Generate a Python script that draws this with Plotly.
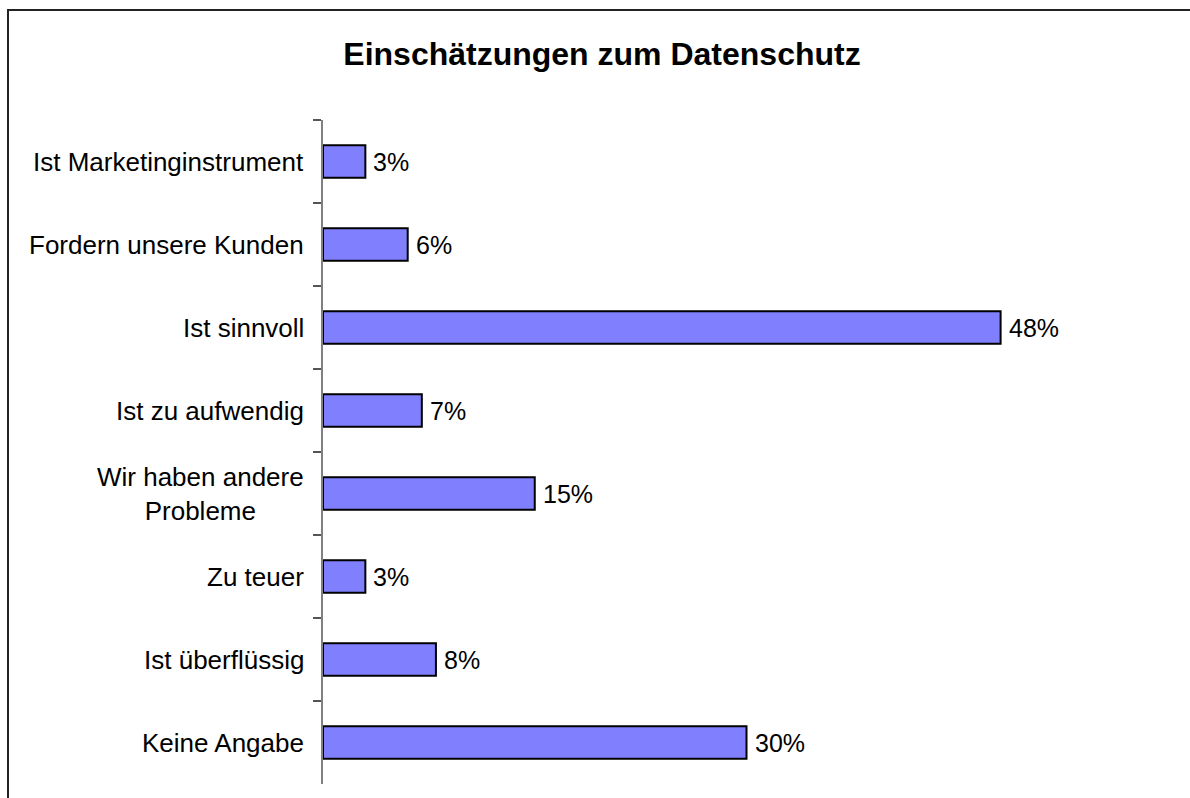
import plotly.graph_objects as go

# Survey answers, top to bottom
categories = [
    "Ist Marketinginstrument",
    "Fordern unsere Kunden",
    "Ist sinnvoll",
    "Ist zu aufwendig",
    "Wir haben andere<br>Probleme",
    "Zu teuer",
    "Ist überflüssig",
    "Keine Angabe",
]
shares = [3, 6, 48, 7, 15, 3, 8, 30]  # percent
value_labels = [f"{v}%" for v in shares]

title_text = "Einschätzungen zum Datenschutz"
FONT = "Liberation Sans, Arial, sans-serif"

W, H = 1190, 798
# plot-area edges in pixels
L, R, T, B = 323, 1170, 120, 784

fig = go.Figure(
    go.Bar(
        x=shares,
        y=categories,
        orientation="h",
        marker=dict(color="#8080FF", line=dict(color="#000000", width=2)),
        width=0.39,
        hoverinfo="skip",
    )
)

# category labels on the left, centred for multi-line entries
for cat in categories:
    fig.add_annotation(
        x=0, xref="paper", y=cat, yref="y",
        text=cat, showarrow=False,
        xanchor="right", yanchor="middle", align="center",
        xshift=-17,
        font=dict(family=FONT, size=26, color="#000000"),
    )

# value labels at the end of each bar
for cat, v, lab in zip(categories, shares, value_labels):
    fig.add_annotation(
        x=v, xref="x", y=cat, yref="y",
        text=lab, showarrow=False,
        xanchor="left", yanchor="middle",
        xshift=6,
        font=dict(family=FONT, size=25, color="#000000"),
    )

# outer frame of the chart
def px_x(p):
    return (p - L) / (R - L)

def px_y(p):
    return (B - p) / (B - T)

fig.add_shape(
    type="rect", xref="paper", yref="paper",
    x0=px_x(8), x1=px_x(1250), y0=px_y(860), y1=px_y(10),
    line=dict(color="#222222", width=2), fillcolor="rgba(0,0,0,0)",
    layer="below",
)

fig.update_layout(
    width=W, height=H,
    margin=dict(l=L, r=W - R, t=T, b=H - B, pad=0),
    paper_bgcolor="white", plot_bgcolor="white",
    showlegend=False,
    title=dict(
        text=f"<b>{title_text}</b>",
        x=602 / W, xanchor="center",
        y=1 - 54 / H, yanchor="middle",
        font=dict(family=FONT, size=32, color="#000000"),
    ),
    xaxis=dict(range=[0, 60], visible=False, fixedrange=True),
    yaxis=dict(
        categoryorder="array",
        categoryarray=categories,
        autorange="reversed",
        showticklabels=False,
        tickson="boundaries",
        ticks="outside", ticklen=8, tickwidth=1.5, tickcolor="#555555",
        showline=True, linecolor="#808080", linewidth=2,
        showgrid=False, zeroline=False, fixedrange=True,
    ),
)

fig.write_html("out.html")
